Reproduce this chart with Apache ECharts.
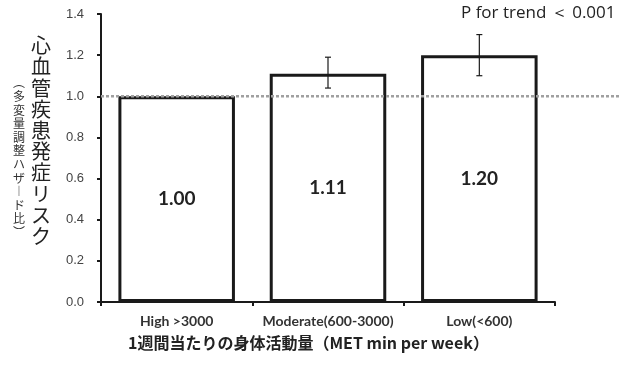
<!DOCTYPE html>
<html>
<head>
<meta charset="utf-8">
<script src="https://cdn.jsdelivr.net/npm/echarts@6/dist/echarts.min.js"></script>
<style>
  html, body { margin: 0; padding: 0; background: #fff; }
  #chart { width: 638px; height: 367px; }
</style>
</head>
<body>
<div id="chart"></div>
<script>
// Activity groups and hazard ratios with 95% CI
const categories = ['High >3000', 'Moderate(600-3000)', 'Low(<600)'];
const hazardRatios = [1.00, 1.11, 1.20];
const ciLower = [null, 1.04, 1.10];
const ciUpper = [null, 1.19, 1.30];
const referenceValue = 1.0;
const yTicks = { min: 0, max: 1.4, step: 0.2 };

const yTitle = '心血管疾患発症リスク';
const ySubTitle = '︵多変量調整ハザ︱ド比︶';
const xTitle = '1週間当たりの身体活動量（MET min per week）';
const trendNote = 'P for trend ＜ 0.001';

const chart = echarts.init(document.getElementById('chart'));

const errorData = categories.map((c, i) => [i, ciLower[i], ciUpper[i]]).filter(d => d[1] != null);

chart.setOption({
  animation: false,
  grid: [
    { left: 101, right: 83, top: 14, bottom: 65 },
    { left: 101, right: 18, top: 14, bottom: 65 }
  ],
  xAxis: [
    {
      type: 'category', data: categories, gridIndex: 0,
      axisLine: { lineStyle: { color: '#1a1a1a', width: 2 } },
      axisTick: { show: true, length: 4, lineStyle: { color: '#1a1a1a', width: 2 } },
      axisLabel: {
        interval: 0, hideOverlap: false, margin: 12,
        fontFamily: 'Lato', fontWeight: 'bold', fontSize: 14, color: '#333'
      }
    },
    { type: 'value', gridIndex: 1, min: 0, max: 1, show: false }
  ],
  yAxis: [
    {
      type: 'value', gridIndex: 0, min: yTicks.min, max: yTicks.max, interval: yTicks.step,
      splitLine: { show: false },
      axisLine: { show: true, lineStyle: { color: '#1a1a1a', width: 2 } },
      axisTick: { show: true, length: 4, lineStyle: { color: '#1a1a1a', width: 2 } },
      axisLabel: {
        margin: 17, fontFamily: 'Liberation Sans', fontSize: 13, color: '#444',
        formatter: v => v.toFixed(1)
      }
    },
    { type: 'value', gridIndex: 1, min: yTicks.min, max: yTicks.max, show: false }
  ],
  series: [
    {
      type: 'bar', xAxisIndex: 0, yAxisIndex: 0,
      data: hazardRatios,
      barWidth: '77%',
      itemStyle: { color: '#fff', borderColor: '#1a1a1a', borderWidth: 3 },
      label: {
        show: true, position: 'inside',
        formatter: p => p.value.toFixed(2),
        fontFamily: 'Lato', fontWeight: 'bold', fontSize: 19, color: '#222'
      },
      z: 2
    },
    {
      type: 'custom', xAxisIndex: 0, yAxisIndex: 0,
      data: errorData,
      renderItem: (params, api) => {
        const lo = api.coord([api.value(0), api.value(1)]);
        const hi = api.coord([api.value(0), api.value(2)]);
        const cap = 3;
        const style = { stroke: '#1a1a1a', lineWidth: 1.2 };
        return {
          type: 'group',
          children: [
            { type: 'line', shape: { x1: hi[0], y1: hi[1], x2: lo[0], y2: lo[1] }, style },
            { type: 'line', shape: { x1: hi[0] - cap, y1: hi[1], x2: hi[0] + cap, y2: hi[1] }, style },
            { type: 'line', shape: { x1: lo[0] - cap, y1: lo[1], x2: lo[0] + cap, y2: lo[1] }, style }
          ]
        };
      },
      z: 3
    },
    {
      type: 'line', xAxisIndex: 1, yAxisIndex: 1,
      data: [[0, referenceValue], [1, referenceValue]],
      symbol: 'none',
      lineStyle: { color: '#a0a0a0', width: 2.5, type: [3, 2] },
      z: 4
    }
  ],
  graphic: [
    {
      type: 'text', left: 31, top: 35,
      style: {
        text: yTitle.split('').join('\n'),
        fontFamily: 'Noto Sans CJK JP', fontSize: 20, lineHeight: 21.2,
        fill: '#222', align: 'center'
      }
    },
    {
      type: 'text', left: 13, top: 76,
      style: {
        text: ySubTitle.split('').join('\n'),
        fontFamily: 'Noto Sans CJK JP', fontSize: 12, lineHeight: 13.6,
        fill: '#333', align: 'center'
      }
    },
    {
      type: 'text', left: 128, top: 335,
      style: {
        text: xTitle,
        fontFamily: 'Noto Sans CJK JP', fontWeight: 'bold', fontSize: 16,
        fill: '#222'
      }
    },
    {
      type: 'text', left: 461, top: 5,
      style: {
        text: trendNote,
        fontFamily: 'Open Sans', fontSize: 17,
        fill: '#222'
      }
    }
  ]
});
</script>
</body>
</html>
